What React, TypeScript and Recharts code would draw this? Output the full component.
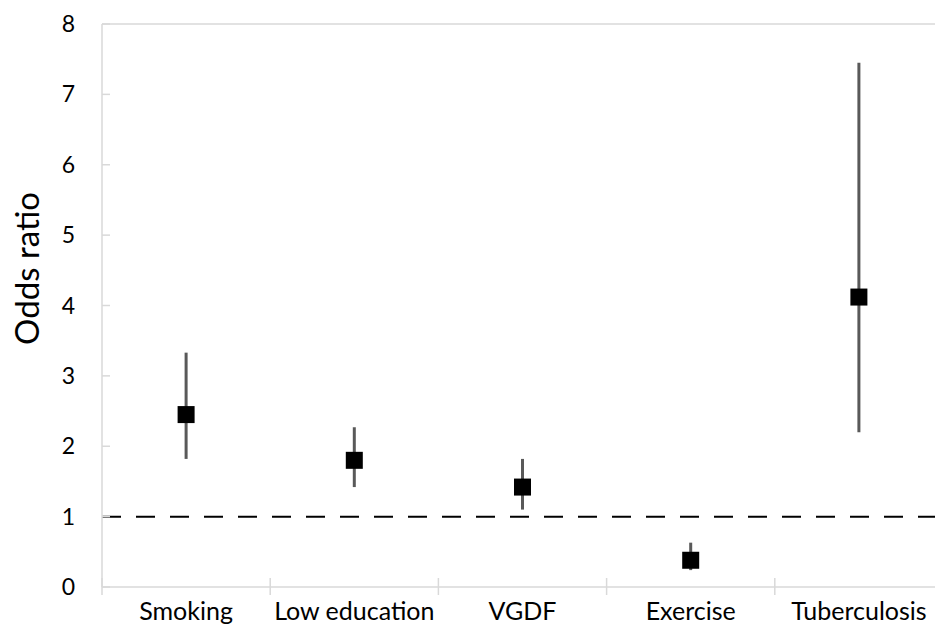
import React from 'react'
import { ComposedChart, Line, ErrorBar, XAxis, YAxis, ReferenceLine } from 'recharts'

const categories = ['Smoking', 'Low education', 'VGDF', 'Exercise', 'Tuberculosis']
const oddsRatio = [2.45, 1.8, 1.42, 0.38, 4.12]
const ciLow = [1.82, 1.42, 1.1, 0.24, 2.2]
const ciHigh = [3.33, 2.27, 1.82, 0.63, 7.45]
const yTicks = [0, 1, 2, 3, 4, 5, 6, 7, 8]

const data = categories.map((name, i) => ({
  name,
  or: oddsRatio[i],
  err: [oddsRatio[i] - ciLow[i], ciHigh[i] - oddsRatio[i]],
}))

const FONT = 'Lato, "Open Sans", sans-serif'
const GRID = '#d9d9d9'

function SquareDot(props: any) {
  const { cx, cy } = props
  if (cx == null || cy == null) return null
  const s = 17
  return <rect x={cx - s / 2} y={cy - s / 2} width={s} height={s} fill="#000" />
}

function CategoryTick(props: any) {
  const { x, y, payload } = props
  const half = payload?.offset || 84
  return (
    <g>
      <line x1={x - half} x2={x - half} y1={y - 9} y2={y + 8} stroke={GRID} strokeWidth={1.5} />
      <text x={x} y={y + 33} textAnchor="middle" fontSize={25} fontFamily={FONT} fill="#000">
        {payload.value}
      </text>
    </g>
  )
}

function ValueTick(props: any) {
  const { x, y, payload } = props
  return (
    <g>
      <line x1={x} x2={x + 8} y1={y} y2={y} stroke={GRID} strokeWidth={1.5} />
      <text x={x - 27} y={y + 8} textAnchor="end" fontSize={23} fontFamily={FONT} fill="#000">
        {payload.value}
      </text>
    </g>
  )
}

export default function App() {
  return (
    <div
      style={{
        position: 'fixed',
        left: 0,
        top: 0,
        width: 935,
        height: 625,
        overflow: 'hidden',
        background: '#fff',
      }}
    >
      <ComposedChart
        width={960}
        height={625}
        data={data}
        margin={{ top: 24, right: 17, bottom: 0, left: 0 }}
      >
        <XAxis
          dataKey="name"
          type="category"
          scale="band"
          interval={0}
          height={38}
          tickSize={0}
          tickMargin={0}
          axisLine={{ stroke: GRID, strokeWidth: 1.5 }}
          tickLine={false}
          tick={<CategoryTick />}
        />
        <YAxis
          type="number"
          domain={[0, 8]}
          ticks={yTicks}
          width={102}
          tickSize={0}
          tickMargin={0}
          axisLine={{ stroke: GRID, strokeWidth: 1.5 }}
          tickLine={false}
          tick={<ValueTick />}
          label={{
            value: 'Odds ratio',
            angle: -90,
            position: 'center',
            dx: -24,
            dy: -37,
            style: { fontSize: 33, fontFamily: FONT, fill: '#000' },
          }}
        />
        <ReferenceLine y={8} stroke={GRID} strokeWidth={1.5} />
        <ReferenceLine y={1} stroke="#000" strokeWidth={2} strokeDasharray="19 15" />
        <Line
          dataKey="or"
          stroke="none"
          isAnimationActive={false}
          dot={<SquareDot />}
          activeDot={false}
        >
          <ErrorBar dataKey="err" direction="y" width={0} stroke="#595959" strokeWidth={3} />
        </Line>
      </ComposedChart>
    </div>
  )
}
